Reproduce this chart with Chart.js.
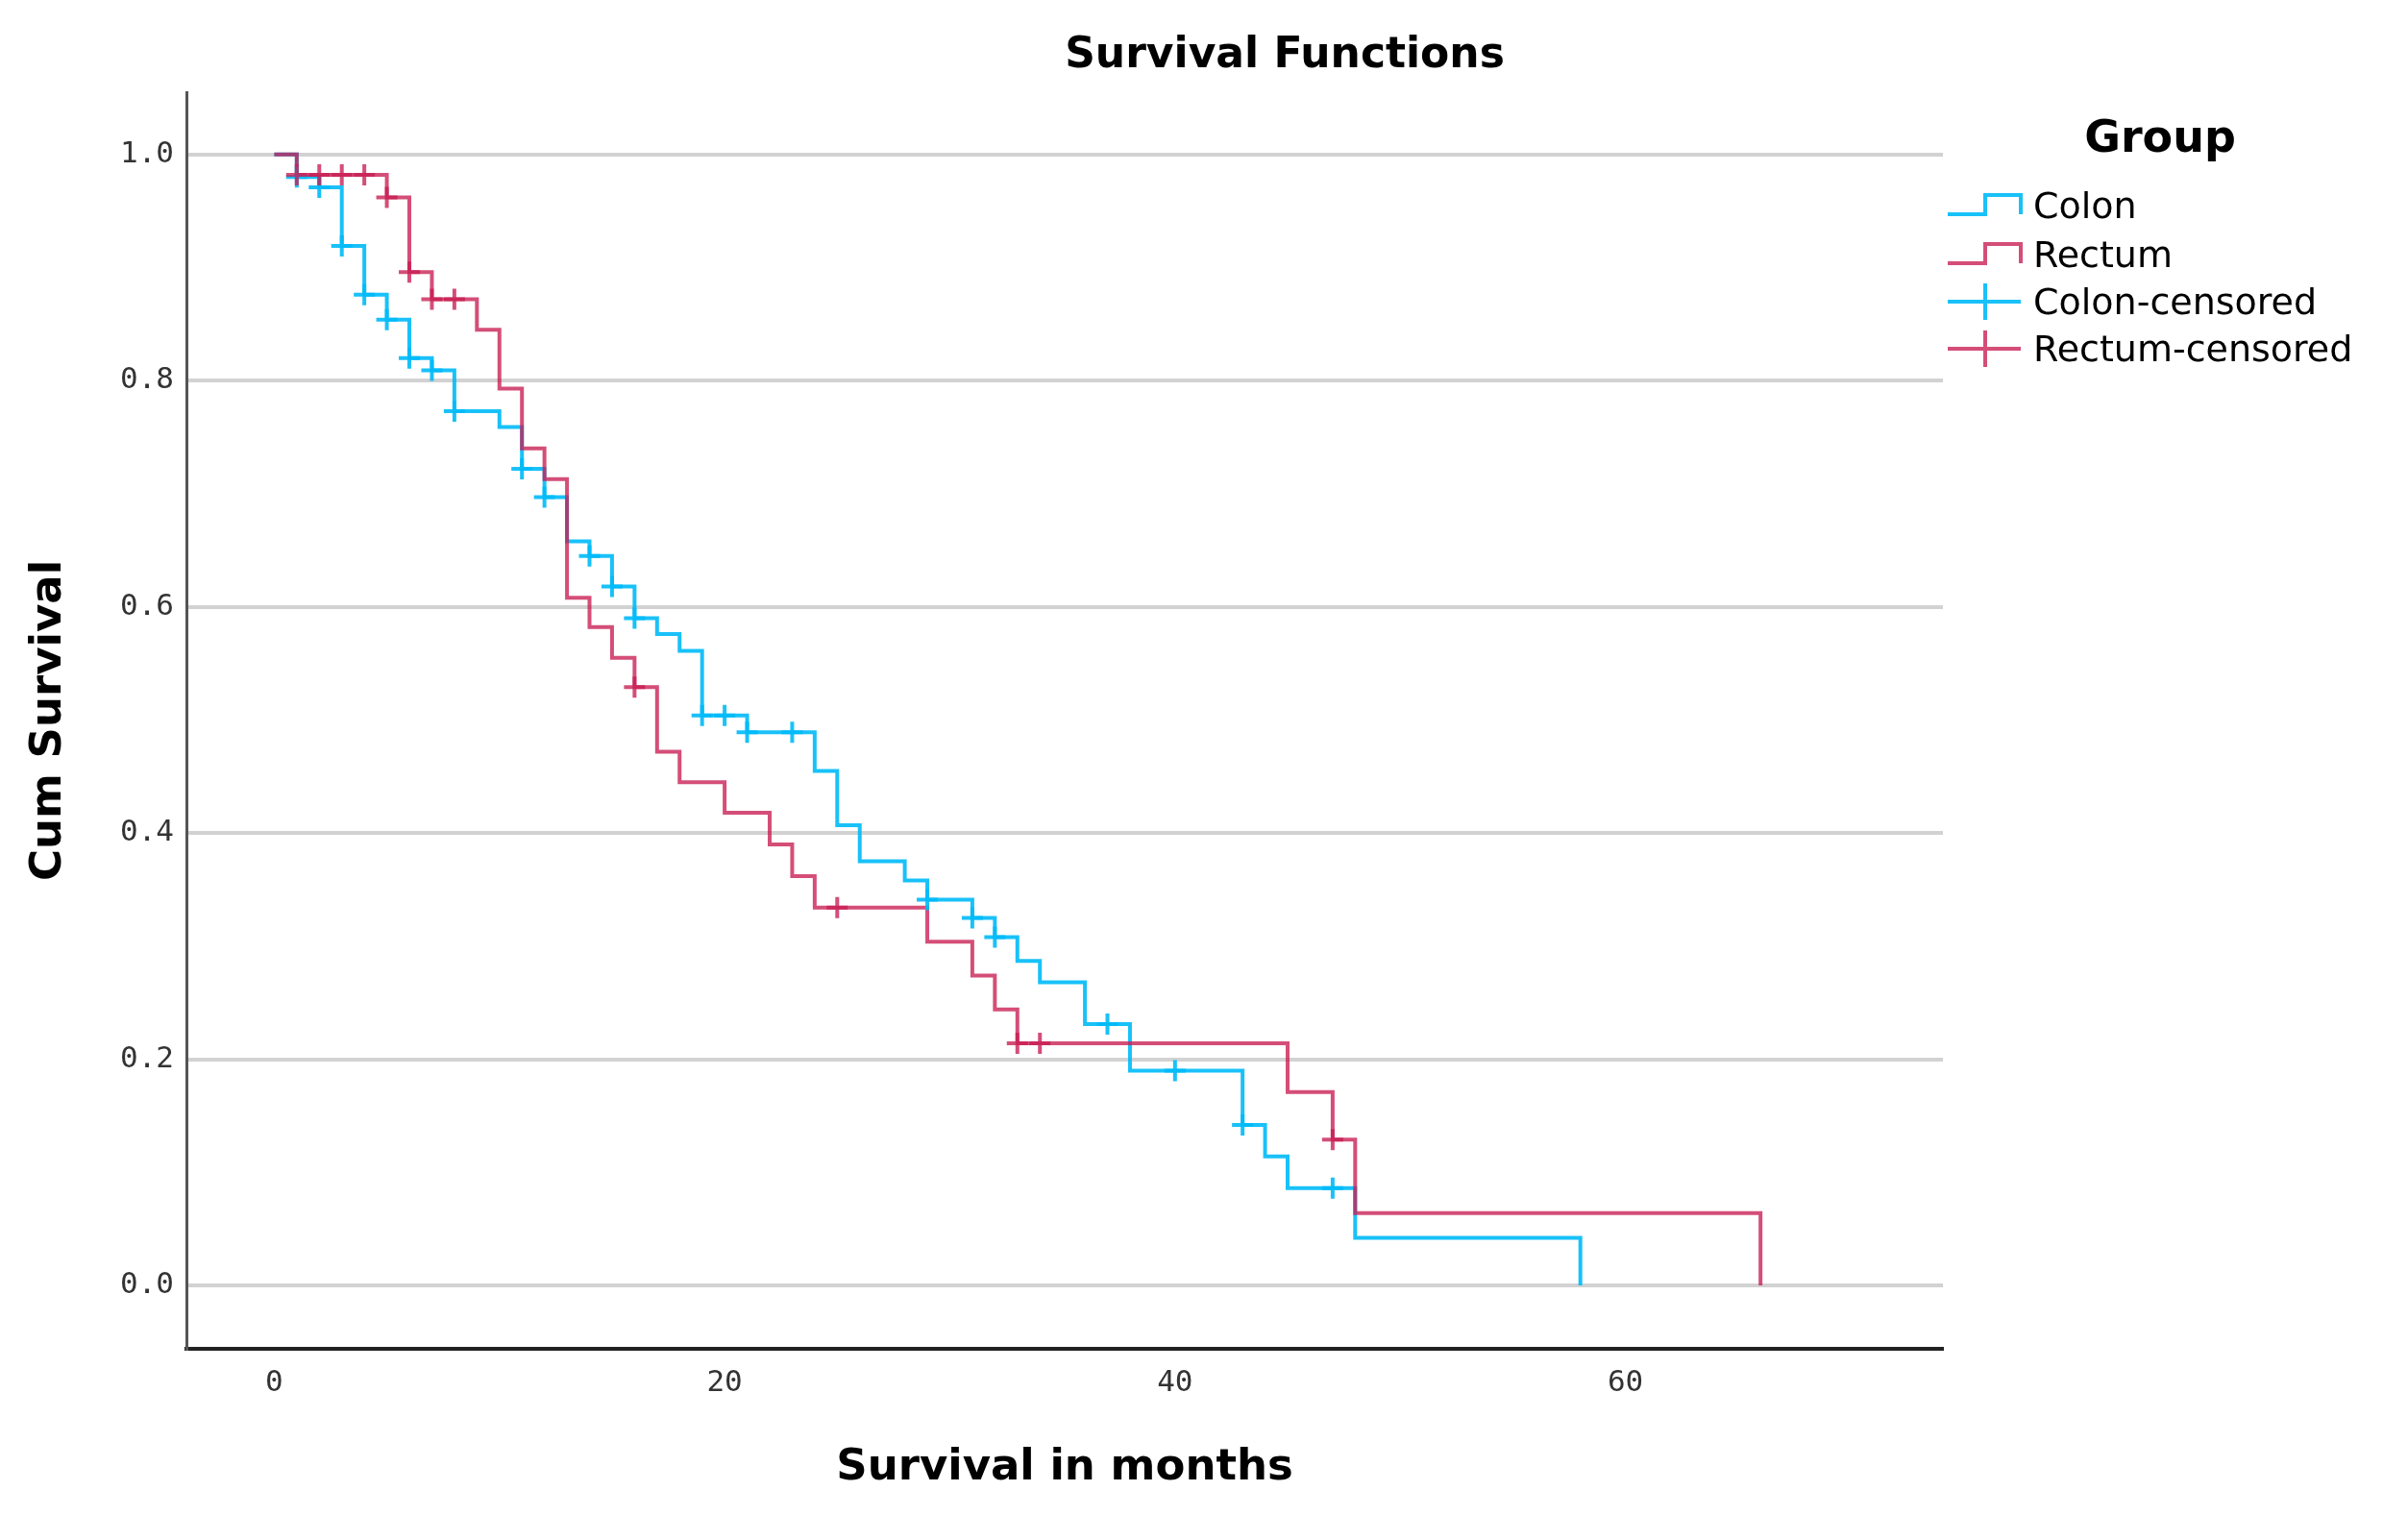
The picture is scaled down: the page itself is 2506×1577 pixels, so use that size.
<!DOCTYPE html>
<html><head><meta charset="utf-8">
<script src="https://cdn.jsdelivr.net/npm/chart.js@4.4.0/dist/chart.umd.min.js"></script>
<style>html,body{margin:0;padding:0;background:#fff;overflow:hidden}#wrap{width:2506px;height:1577px;position:relative}</style>
</head><body><div id="wrap"><canvas id="c"></canvas></div>
<script>
const chartTitle = 'Survival Functions';
const xAxisTitle = 'Survival in months';
const yAxisTitle = 'Cum Survival';
const legendTitle = 'Group';
const seriesLabels = ['Colon', 'Rectum', 'Colon-censored', 'Rectum-censored'];
const xTickValues = [0, 20, 40, 60];
const yTickValues = [0, 0.2, 0.4, 0.6, 0.8, 1.0];

// Kaplan-Meier steps: time (months) and cumulative survival from that time on
const colonTimes = [0, 1, 2, 3, 4, 5, 6, 7, 8, 10, 11, 12, 13, 14, 15, 16, 17, 18, 19, 21, 24, 25, 26, 28, 29, 31, 32, 33, 34, 36, 38, 43, 44, 45, 48, 58];
const colonSurv  = [1.0, 0.980, 0.971, 0.919, 0.876, 0.854, 0.820, 0.809, 0.773, 0.759, 0.722, 0.697, 0.658, 0.645, 0.618, 0.590, 0.576, 0.561, 0.504, 0.489, 0.455, 0.407, 0.375, 0.358, 0.341, 0.325, 0.308, 0.287, 0.268, 0.231, 0.190, 0.142, 0.114, 0.086, 0.042, 0.0];

const rectumTimes = [0, 1, 5, 6, 7, 9, 10, 11, 12, 13, 14, 15, 16, 17, 18, 20, 22, 23, 24, 29, 31, 32, 33, 45, 47, 48, 66];
const rectumSurv  = [1.0, 0.982, 0.962, 0.896, 0.872, 0.845, 0.793, 0.740, 0.713, 0.608, 0.582, 0.555, 0.529, 0.472, 0.445, 0.418, 0.390, 0.362, 0.334, 0.304, 0.274, 0.244, 0.214, 0.171, 0.129, 0.064, 0.0];

// Censored observations
const colonCensorTimes = [1, 2, 3, 4, 5, 6, 7, 8, 11, 12, 14, 15, 16, 19, 20, 21, 23, 29, 31, 32, 37, 40, 43, 47];
const colonCensorSurv  = [0.980, 0.971, 0.919, 0.876, 0.854, 0.820, 0.809, 0.773, 0.722, 0.697, 0.645, 0.618, 0.590, 0.504, 0.504, 0.489, 0.489, 0.341, 0.325, 0.308, 0.231, 0.190, 0.142, 0.086];

const rectumCensorTimes = [1, 2, 3, 4, 5, 6, 7, 8, 16, 25, 33, 34, 47];
const rectumCensorSurv  = [0.982, 0.982, 0.982, 0.982, 0.962, 0.896, 0.872, 0.872, 0.529, 0.334, 0.214, 0.214, 0.129];

const colonColor = 'rgba(0,186,248,0.9)';
const rectumColor = 'rgba(200,28,82,0.78)';

function pts(xs, ys) { return xs.map((x, i) => ({ x: x, y: ys[i] })); }

const whiteBg = {
  id: 'whiteBg',
  beforeDraw(chart) {
    const c = chart.ctx;
    c.save(); c.fillStyle = '#fff'; c.fillRect(0, 0, chart.width, chart.height); c.restore();
  }
};

const titlePlugin = {
  id: 'titlePlugin',
  afterDraw(chart) {
    const c = chart.ctx;
    c.save();
    c.font = 'bold 44px "DejaVu Sans"';
    c.fillStyle = '#000';
    c.textAlign = 'center';
    c.textBaseline = 'middle';
    c.fillText(chartTitle, 1337, 59);
    c.restore();
  }
};

const legendPlugin = {
  id: 'kmLegend',
  afterDraw(chart) {
    const c = chart.ctx;
    c.save();
    c.fillStyle = '#000';
    c.textAlign = 'center';
    c.textBaseline = 'middle';
    c.font = 'bold 46px "DejaVu Sans"';
    c.fillText(legendTitle, 2248, 146);
    const x0 = 2027, x1 = 2066, x2 = 2103;
    const ys = [217, 268, 317, 366];
    chart.data.datasets.forEach((ds, i) => {
      const yc = ys[i];
      c.strokeStyle = ds.borderColor;
      c.lineWidth = 4;
      c.beginPath();
      if (ds.showLine) {
        c.moveTo(x0, yc + 6); c.lineTo(x1, yc + 6); c.lineTo(x1, yc - 14); c.lineTo(x2, yc - 14); c.lineTo(x2, yc + 6);
      } else {
        c.moveTo(x0, yc - 3); c.lineTo(x2, yc - 3);
        c.moveTo(x1, yc - 22); c.lineTo(x1, yc + 16);
      }
      c.stroke();
      c.fillStyle = '#000';
      c.textAlign = 'left';
      c.font = '38px "DejaVu Sans"';
      c.fillText(ds.label, 2116, yc);
    });
    c.restore();
  }
};

new Chart(document.getElementById('c'), {
  type: 'scatter',
  data: {
    datasets: [
      { label: seriesLabels[0], data: pts(colonTimes, colonSurv), showLine: true, stepped: 'before',
        borderColor: colonColor, borderWidth: 4, pointRadius: 0, fill: false, order: 3 },
      { label: seriesLabels[1], data: pts(rectumTimes, rectumSurv), showLine: true, stepped: 'before',
        borderColor: rectumColor, borderWidth: 4, pointRadius: 0, fill: false, order: 2 },
      { label: seriesLabels[2], data: pts(colonCensorTimes, colonCensorSurv), showLine: false,
        pointStyle: 'cross', pointRadius: 11, pointBorderWidth: 4, borderColor: colonColor, backgroundColor: colonColor, order: 1 },
      { label: seriesLabels[3], data: pts(rectumCensorTimes, rectumCensorSurv), showLine: false,
        pointStyle: 'cross', pointRadius: 11, pointBorderWidth: 4, borderColor: rectumColor, backgroundColor: rectumColor, order: 0 }
    ]
  },
  options: {
    responsive: true,
    maintainAspectRatio: false,
    devicePixelRatio: 1,
    animation: false,
    layout: { padding: { top: 96, right: 484, bottom: 0, left: 0 } },
    plugins: { legend: { display: false }, title: { display: false }, tooltip: { enabled: false } },
    scales: {
      x: {
        type: 'linear', min: -3.9, max: 74.1,
        afterBuildTicks: s => { s.ticks = xTickValues.map(v => ({ value: v })); },
        afterFit: s => { s.height = 173; },
        grid: { display: false, drawTicks: false },
        border: { display: true, color: '#222', width: 4 },
        ticks: { font: { family: 'DejaVu Sans Mono', size: 31 }, color: '#333', padding: 17, maxRotation: 0, autoSkip: false },
        title: { display: true, text: xAxisTitle, color: '#000', font: { family: 'DejaVu Sans', size: 45, weight: 'bold' }, padding: { top: 0, bottom: 22 } }
      },
      y: {
        type: 'linear', min: -0.056, max: 1.055,
        afterBuildTicks: s => { s.ticks = yTickValues.map(v => ({ value: v })); },
        afterFit: s => { s.width = 194; },
        grid: { display: true, drawTicks: false, color: '#d2d2d2', lineWidth: 4 },
        border: { display: true, color: '#555', width: 3 },
        ticks: { font: { family: 'DejaVu Sans Mono', size: 31 }, color: '#333', padding: 13, callback: v => Number(v).toFixed(1) },
        title: { display: true, text: yAxisTitle, color: '#000', font: { family: 'DejaVu Sans', size: 45, weight: 'bold' }, padding: { top: 24, bottom: 0 } }
      }
    }
  },
  plugins: [whiteBg, titlePlugin, legendPlugin]
});
</script></body></html>
